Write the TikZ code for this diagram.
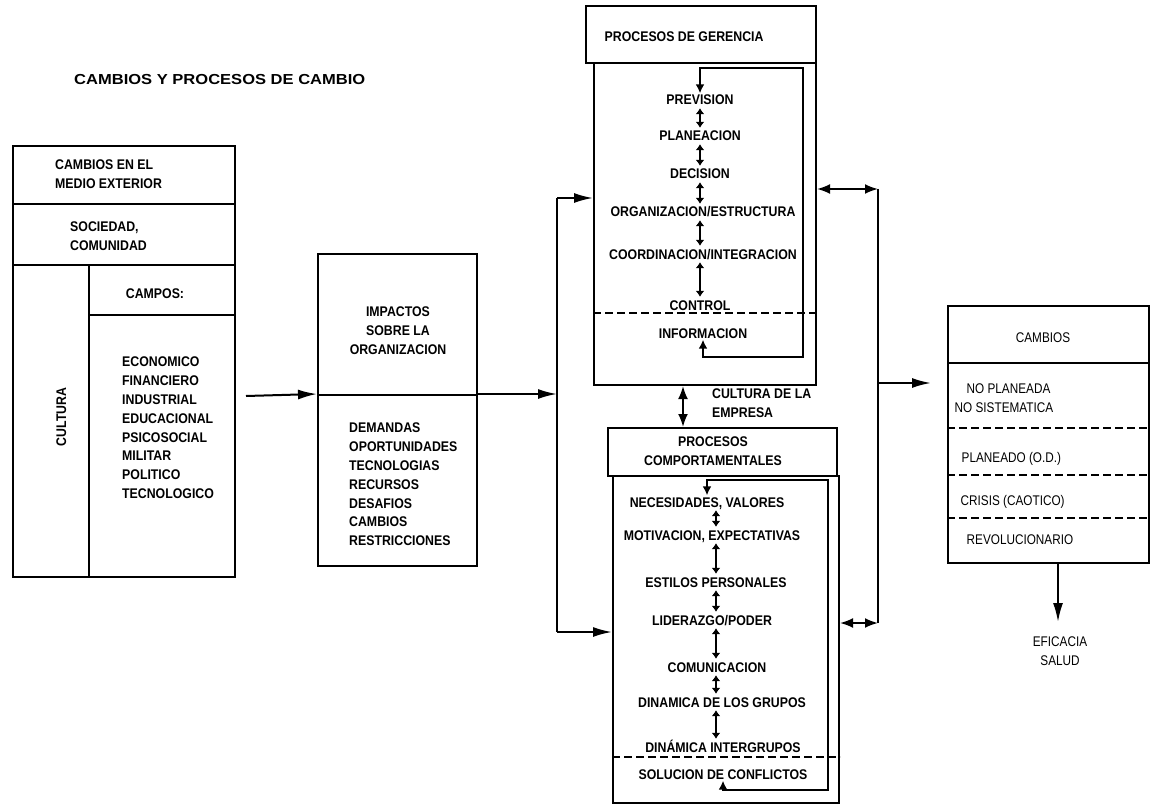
\documentclass[tikz,border=0pt]{standalone}
\usepackage{fontspec}
\setmainfont{Liberation Sans}[FakeStretch=0.88]
\newfontfamily\thinf{Liberation Sans}[FakeStretch=0.84]
\newfontfamily\titlef{Liberation Sans}
\usetikzlibrary{arrows.meta,calc}
\newcommand{\nf}{\fontsize{14}{18.8}\selectfont}
\begin{document}
\begin{tikzpicture}[x=1pt,y=-1pt,
  lw/.style={line width=2pt},
  box/.style={draw, line width=2pt, inner sep=0pt, anchor=north west},
  t/.style={inner sep=1.5pt, text height=10pt, text depth=0pt, font=\nf\bfseries},
  tl/.style={inner sep=1.5pt, text height=10pt, text depth=0pt, font=\nf\thinf},
  lst/.style={inner sep=0pt, anchor=north west, align=left, font=\nf\bfseries},
  arr/.style={line width=2pt, -{Latex[length=19pt,width=10pt]}},
  dbl/.style={line width=2pt, {Latex[length=13pt,width=10pt]}-{Latex[length=13pt,width=10pt]}},
  lpar/.style={line width=2pt, {Latex[length=9pt,width=9pt]}-{Latex[length=9pt,width=9pt]}},
  sdbl/.style={line width=2pt, shorten <=1.5pt, shorten >=1.5pt, {Latex[length=6pt,width=9pt]}-{Latex[length=6pt,width=9pt]}},
  dsh/.style={line width=2pt, dash pattern=on 8pt off 4pt},
]
\useasboundingbox (0,0) rectangle (1151,805);

% title
\node[inner sep=0pt, anchor=west, font=\fontsize{14.5}{16}\selectfont\titlef\bfseries] (title) at (74,80) {\scalebox{1.14}[1]{CAMBIOS Y PROCESOS DE CAMBIO}};

% left box
\node[box, minimum width=222pt, minimum height=58pt] (lb1) at (12,145) {};
\node[box, minimum width=222pt, minimum height=61pt] (lb2) at (12,203) {};
\node[box, minimum width=76pt, minimum height=312pt] (lb3) at (12,264) {};
\node[box, minimum width=146pt, minimum height=50pt] (lb4) at (88,264) {};
\node[box, minimum width=146pt, minimum height=262pt] (lb5) at (88,314) {};
\node[lst] (tx1) at (55,160) {CAMBIOS EN EL\\MEDIO EXTERIOR};
\node[lst] (tx2) at (70,222) {SOCIEDAD,\\COMUNIDAD};
\node[t, rotate=90] (cult) at (61,417) {CULTURA};
\node[t] (campos) at (155,293) {CAMPOS:};
\node[lst] (camposl) at (122,357) {ECONOMICO\\FINANCIERO\\INDUSTRIAL\\EDUCACIONAL\\PSICOSOCIAL\\MILITAR\\POLITICO\\TECNOLOGICO};

% middle box
\node[box, minimum width=159pt, minimum height=141pt] (mb1) at (317,253) {};
\node[box, minimum width=159pt, minimum height=171pt] (mb2) at (317,394) {};
\node[lst, anchor=north, align=center] (imp) at (398,307) {IMPACTOS\\SOBRE LA\\ORGANIZACION};
\node[lst] (dem) at (349,423) {DEMANDAS\\OPORTUNIDADES\\TECNOLOGIAS\\RECURSOS\\DESAFIOS\\CAMBIOS\\RESTRICCIONES};

% management box
\node[box, minimum width=230pt, minimum height=57pt] (mh) at (585,5) {};
\node[box, minimum width=222pt, minimum height=322pt] (mm) at (593,62) {};
\node[t, anchor=west] (mht) at (603,37) {PROCESOS DE GERENCIA};
\node[t] (g1) at (700,100) {PREVISION};
\node[t] (g2) at (700,136) {PLANEACION};
\node[t] (g3) at (700,174) {DECISION};
\node[t] (g4) at (703,212) {ORGANIZACION/ESTRUCTURA};
\node[t] (g5) at (703,254) {COORDINACION/INTEGRACION};
\node[t] (g6) at (700,305) {CONTROL};
\node[t] (g7) at (703,333) {INFORMACION};
\coordinate (gax) at (700,0);
\draw[sdbl] (g1.south -| gax) -- (g2.north -| gax);
\draw[sdbl] (g2.south -| gax) -- (g3.north -| gax);
\draw[sdbl] (g3.south -| gax) -- (g4.north -| gax);
\draw[sdbl] (g4.south -| gax) -- (g5.north -| gax);
\draw[sdbl] (g5.south -| gax) -- (g6.north -| gax);
\coordinate (d1) at (0,313);
\draw[dsh] (d1 -| mm.west) -- (d1 -| mm.east);
\coordinate (mlT) at (803,68);
\coordinate (mlB) at (803,357);
\draw[lpar] (g7.south) |- (mlB) -- (mlT) -| (g1.north);

% behaviour box
\node[box, minimum width=229pt, minimum height=48pt] (bh) at (607,427) {};
\node[box, minimum width=226pt, minimum height=327pt] (bm) at (612,475) {};
\node[lst, anchor=north, align=center] (bht) at (713,437) {PROCESOS\\COMPORTAMENTALES};
\node[t] (c1) at (707,502) {NECESIDADES, VALORES};
\node[t] (c2) at (712,535) {MOTIVACION, EXPECTATIVAS};
\node[t] (c3) at (716,582) {ESTILOS PERSONALES};
\node[t] (c4) at (712,620) {LIDERAZGO/PODER};
\node[t] (c5) at (717,667) {COMUNICACION};
\node[t] (c6) at (722,702) {DINAMICA DE LOS GRUPOS};
\node[t] (c7) at (723,747) {DINÁMICA INTERGRUPOS};
\node[t] (c8) at (723,774) {SOLUCION DE CONFLICTOS};
\coordinate (cax) at (716,0);
\draw[sdbl] (c1.south -| cax) -- (c2.north -| cax);
\draw[sdbl] (c2.south -| cax) -- (c3.north -| cax);
\draw[sdbl] (c3.south -| cax) -- (c4.north -| cax);
\draw[sdbl] (c4.south -| cax) -- (c5.north -| cax);
\draw[sdbl] (c5.south -| cax) -- (c6.north -| cax);
\draw[sdbl] (c6.south -| cax) -- (c7.north -| cax);
\coordinate (d2) at (0,757);
\draw[dsh] (d2 -| bm.west) -- (d2 -| bm.east);
\coordinate (blT) at (828,480);
\coordinate (blB) at (828,790);
\draw[lpar] (c8.south) |- (blB) -- (blT) -| (c1.north);

% cultura de la empresa
\node[lst] (cemp) at (712,389) {CULTURA DE LA\\EMPRESA};
\coordinate (cu) at (683,405);
\draw[dbl] (cu |- mm.south) -- (cu |- bh.north);

% right box
\node[box, minimum width=201pt, minimum height=257pt] (rb) at (947,305) {};
\coordinate (e1) at (0,363);
\coordinate (e2) at (0,428);
\coordinate (e3) at (0,475);
\coordinate (e4) at (0,518);
\draw[lw] (e1 -| rb.west) -- (e1 -| rb.east);
\draw[dsh] (e2 -| rb.west) -- (e2 -| rb.east);
\draw[dsh] (e3 -| rb.west) -- (e3 -| rb.east);
\draw[dsh] (e4 -| rb.west) -- (e4 -| rb.east);
\node[tl] (r1) at (1043,337) {CAMBIOS};
\node[tl, anchor=west] (r2a) at (965,388) {NO PLANEADA};
\node[tl, anchor=west] (r2b) at (953,407) {NO SISTEMATICA};
\node[tl, anchor=west] (r3) at (960,457) {PLANEADO (O.D.)};
\node[tl, anchor=west] (r4) at (959,500) {CRISIS (CAOTICO)};
\node[tl, anchor=west] (r5) at (965,539) {REVOLUCIONARIO};
\node[lst, anchor=north, align=center, font=\nf\thinf] (efi) at (1060,637) {EFICACIA\\SALUD};
\coordinate (ef) at (1058,622);
\draw[arr] (rb.south -| ef) -- (ef);

% connectors left side
\coordinate (a1) at (246,396);
\draw[arr] (a1) -- (mb2.north west);
\coordinate (busT) at (557,198);
\coordinate (busM) at (557,394);
\coordinate (busB) at (557,632);
\draw[arr] (mb2.north east) -- (busM);
\draw[lw] (busT) -- (busB);
\draw[arr] (busT) -- (busT -| mm.west);
\draw[arr] (busB) -- (busB -| bm.west);

% connectors right side
\coordinate (rT) at (878,189);
\coordinate (rM) at (878,383);
\coordinate (rB) at (878,623);
\draw[dbl] (rT -| mm.east) -- (rT);
\draw[lw] (rT) -- (rB);
\draw[dbl] (rB -| bm.east) -- (rB);
\draw[arr, shorten >=16pt] (rM) -- (rM -| rb.west);
\end{tikzpicture}
\end{document}
